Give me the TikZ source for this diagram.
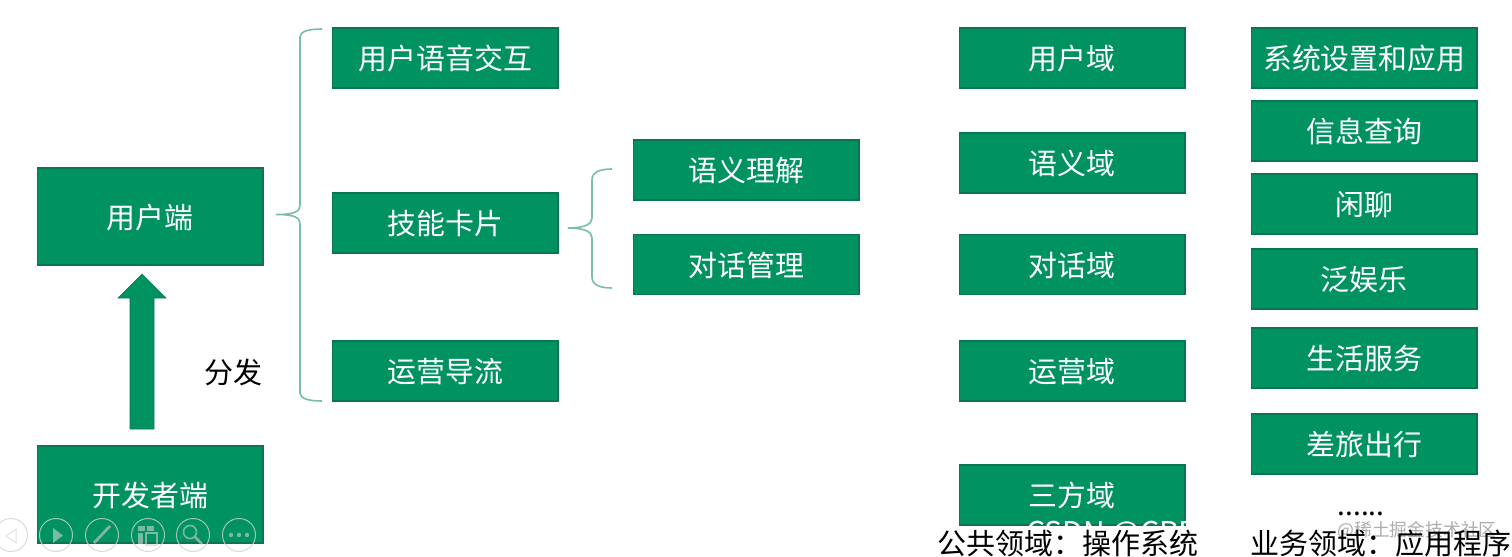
\documentclass[tikz,border=0pt]{standalone}
\usepackage{fontspec}
\setmainfont{Noto Sans CJK SC}
\definecolor{boxgreen}{RGB}{0,146,96}
\definecolor{boxedge}{RGB}{10,118,80}
\definecolor{bracecol}{RGB}{122,190,165}
\definecolor{iconcol}{RGB}{205,212,209}
\tikzset{
  x=0.5pt,y=-0.5pt,
  gbox/.style={draw=boxedge,line width=0.6pt,fill=boxgreen,text=white,font=\fontsize{14.45pt}{16pt}\selectfont,minimum width=112.6pt,minimum height=30pt,inner sep=0pt,anchor=center,text height=13pt,text depth=1.4pt},
  tallbox/.style={gbox,minimum height=48.5pt},
  brace/.style={draw=bracecol,line width=0.8pt},
  plainlabel/.style={font=\fontsize{14.5pt}{16pt}\selectfont,text=black,inner sep=0pt,anchor=center},
  icon/.style={draw=iconcol,draw opacity=0.8,line width=0.5pt,fill=none,circle,minimum size=16.5pt,inner sep=0pt},
  iconmark/.style={fill=iconcol,draw=none,fill opacity=0.6},
  iconline/.style={draw=iconcol,draw opacity=0.6}
}
\begin{document}
\begin{tikzpicture}
\useasboundingbox (0,0) rectangle (1512,557);
\fill[white] (0,0) rectangle (1512,557);
% left column
\node[tallbox] (user) at (150.3,216.5) {用户端};
\node[tallbox] (dev) at (150.3,494.5) {开发者端};
\fill[boxgreen,draw=boxedge,line width=0.3pt] (142,274) -- (166,298) -- (154,298) -- (154,429) -- (130,429) -- (130,298) -- (118,298) -- cycle;
\node[plainlabel] (dist) at (233.5,372) {分发};
% middle
\node[gbox] (voice) at (445.3,58) {用户语音交互};
\node[gbox] (skill) at (445.3,223) {技能卡片};
\node[gbox] (ops) at (445.3,371) {运营导流};
\node[gbox] (sem) at (746.3,170) {语义理解};
\node[gbox] (dlg) at (746.3,264.5) {对话管理};
% right 1
\node[gbox] (d1) at (1072.3,58) {用户域};
\node[gbox] (d2) at (1072.3,163) {语义域};
\node[gbox] (d3) at (1072.3,264.5) {对话域};
\node[gbox] (d4) at (1072.3,371) {运营域};
\node[gbox] (d5) at (1072.3,495) {三方域};
% right 2
\node[gbox] (a1) at (1364.3,58) {系统设置和应用};
\node[gbox] (a2) at (1364.3,131) {信息查询};
\node[gbox] (a3) at (1364.3,204) {闲聊};
\node[gbox] (a4) at (1364.3,279) {泛娱乐};
\node[gbox] (a5) at (1364.3,358) {生活服务};
\node[gbox] (a6) at (1364.3,444) {差旅出行};
% braces
\coordinate (b1tip) at (276,214.5);
\coordinate (b1top) at (322,29);
\coordinate (b1bot) at (322,401);
\draw[brace] (b1top) .. controls (310,29) and (300,31) .. (300,37) -- (300,205)
  .. controls (300,211) and (296,214.5) .. (b1tip)
  .. controls (296,214.5) and (300,218) .. (300,224) -- (300,393)
  .. controls (300,399) and (310,401) .. (b1bot);
\coordinate (b2tip) at (568,228);
\coordinate (b2top) at (612,169);
\coordinate (b2bot) at (612,288);
\draw[brace] (b2top) .. controls (600,169) and (592,172) .. (592,180) -- (592,218)
  .. controls (592,224) and (585,228) .. (b2tip)
  .. controls (585,228) and (592,232) .. (592,238) -- (592,277)
  .. controls (592,285) and (600,288) .. (b2bot);
% watermarks
\begin{scope}
\clip (959,465) rectangle (1185,525);
\node[font=\fontsize{15pt}{17pt}\selectfont,text=white,inner sep=0pt,anchor=west] (csdn) at (1026,535) {CSDN @CPP};
\end{scope}
\node[font=\fontsize{14pt}{16pt}\selectfont,text=black,inner sep=0pt] (dots) at (1361,514) {......};
\node[font=\fontsize{8.9pt}{11pt}\selectfont,text=black!32,inner sep=0pt,anchor=west] (mark) at (1337,530) {@稀土掘金技术社区};
% bottom labels
\node[plainlabel,anchor=west] (pub) at (937.5,543) {公共领域：操作系统};
\node[plainlabel,anchor=west] (biz) at (1250,543) {业务领域：应用程序};
% player toolbar
\node[icon] (p0) at (11,535) {};
\node[icon] (p1) at (56,535) {};
\node[icon] (p2) at (102,535) {};
\node[icon] (p3) at (148,535) {};
\node[icon] (p4) at (193,535) {};
\node[icon] (p5) at (239,535) {};
\draw[iconline,line width=0.5pt] (16,529) -- (6,536) -- (16,543) -- cycle;
\fill[iconmark] (53,528) -- (63,535.5) -- (53,543) -- cycle;
\draw[iconline,line width=1.4pt] (94,543) -- (110,526);
\fill[iconmark] (138,526) rectangle (145,531);
\fill[iconmark] (147,526) rectangle (154,531);
\fill[iconmark] (138,533) rectangle (143,544);
\draw[iconline,line width=0.9pt] (146,533) rectangle (157,545);
\draw[iconline,line width=0.8pt] (190,532) circle (6.5);
\draw[iconline,line width=1.4pt] (195,537) -- (202,544);
\fill[iconmark] (231,535) circle (2.2);
\fill[iconmark] (239,535) circle (2.2);
\fill[iconmark] (247,535) circle (2.2);
\end{tikzpicture}
\end{document}
